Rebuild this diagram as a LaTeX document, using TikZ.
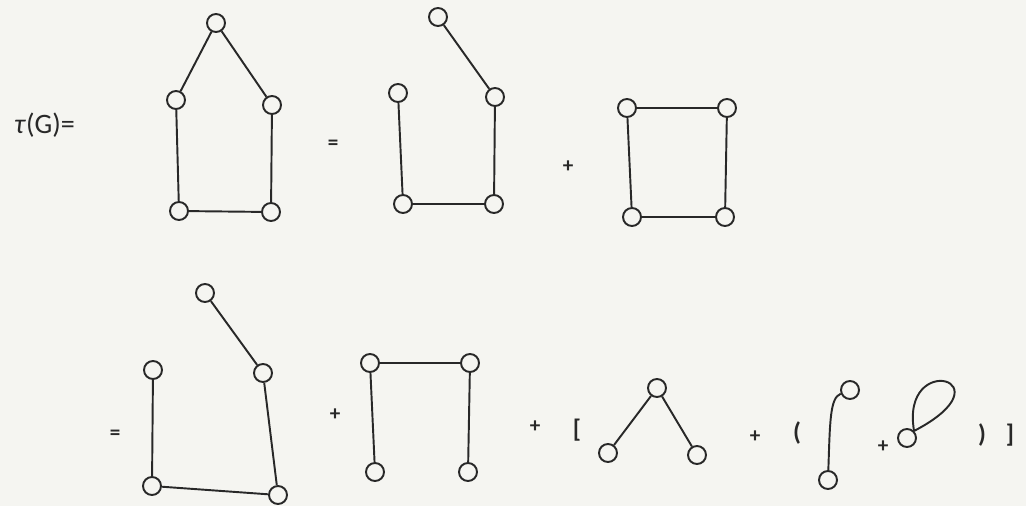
\documentclass[tikz,border=0pt]{standalone}
\usepackage{fontspec}
\setmainfont{Carlito}
\usepackage{tikz}
\usetikzlibrary{positioning}
\definecolor{paper}{RGB}{245,245,241}
\definecolor{ink}{RGB}{40,40,40}
\tikzset{
  vtx/.style={circle, draw=ink, line width=1.1pt, minimum size=0.36cm, inner sep=0pt},
  edg/.style={draw=ink, line width=1.1pt},
  sign/.style={text=ink, font=\large\bfseries, inner sep=0pt},
  brack/.style={text=ink, font=\Large\bfseries, inner sep=0pt}
}
\begin{document}
\begin{tikzpicture}[x=0.02cm, y=-0.02cm]
    \useasboundingbox[fill=paper] (0,0) rectangle (1026,506);

    % Label
    \node[text=ink, font=\fontsize{16}{18}\selectfont, anchor=west] (lbl) at (8,125) {\textit{τ}(G)=};

    % Graph G
    \node[vtx] (g1t) at (216,23) {};
    \node[vtx] (g1l) at (176,100) {};
    \node[vtx] (g1r) at (272,105) {};
    \node[vtx] (g1bl) at (179,211) {};
    \node[vtx] (g1br) at (271,212) {};
    \draw[edg] (g1t) -- (g1l) -- (g1bl) -- (g1br) -- (g1r) -- (g1t);

    \node[sign] (eq1) at (333,145) {=};

    % G minus edge
    \node[vtx] (g2t) at (438,17) {};
    \node[vtx] (g2l) at (398,93) {};
    \node[vtx] (g2r) at (495,97) {};
    \node[vtx] (g2bl) at (403,204) {};
    \node[vtx] (g2br) at (494,204) {};
    \draw[edg] (g2t) -- (g2r) -- (g2br) -- (g2bl) -- (g2l);

    \node[sign] (pl1) at (568,167) {+};

    % G contract edge
    \node[vtx] (g3tl) at (627,108) {};
    \node[vtx] (g3tr) at (727,108) {};
    \node[vtx] (g3bl) at (632,217) {};
    \node[vtx] (g3br) at (725,217) {};
    \draw[edg] (g3tl) -- (g3tr) -- (g3br) -- (g3bl) -- (g3tl);

    % Second line
    \node[sign] (eq2) at (115,435) {=};

    \node[vtx] (g4t) at (205,293) {};
    \node[vtx] (g4l) at (153,370) {};
    \node[vtx] (g4r) at (263,373) {};
    \node[vtx] (g4bl) at (152,486) {};
    \node[vtx] (g4br) at (278,495) {};
    \draw[edg] (g4t) -- (g4r) -- (g4br) -- (g4bl) -- (g4l);

    \node[sign] (pl2) at (335,415) {+};

    \node[vtx] (g5tl) at (370,363) {};
    \node[vtx] (g5tr) at (470,363) {};
    \node[vtx] (g5bl) at (375,472) {};
    \node[vtx] (g5br) at (468,472) {};
    \draw[edg] (g5bl) -- (g5tl) -- (g5tr) -- (g5br);

    \node[sign] (pl3) at (535,427) {+};
    \node[brack] (lb) at (577,430) {[};

    \node[vtx] (g6t) at (657,388) {};
    \node[vtx] (g6l) at (608,453) {};
    \node[vtx] (g6r) at (697,455) {};
    \draw[edg] (g6l) -- (g6t) -- (g6r);

    \node[sign] (pl4) at (755,437) {+};
    \node[brack] (lp) at (797,433) {(};

    \node[vtx] (g7t) at (850,390) {};
    \node[vtx] (g7b) at (828,480) {};
    \draw[edg] (g7b) .. controls (830,420) and (830,398) .. (g7t);

    \node[sign] (pl5) at (883,447) {+};

    % Loop
    \node[vtx] (g8) at (907,438) {};
    \draw[edg] (g8.north east) .. controls (900,350) and (1012,380) .. (g8.north east);

    \node[brack] (rp) at (982,435) {)};
    \node[brack] (rb) at (1010,435) {]};
\end{tikzpicture}
\end{document}
